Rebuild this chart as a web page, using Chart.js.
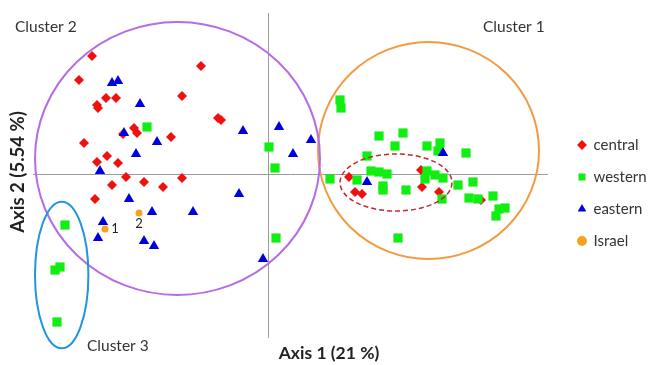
<!DOCTYPE html>
<html>
<head>
<meta charset="utf-8">
<script src="https://cdn.jsdelivr.net/npm/chart.js@4.4.0/dist/chart.umd.min.js"></script>
<style>
  html, body { margin: 0; padding: 0; background: #fff; }
  #wrap { width: 654px; height: 365px; position: relative; }
</style>
</head>
<body>
<div id="wrap"><canvas id="pcaChart"></canvas></div>
<script>
// PCA scores (axis 1 / axis 2)
const centralX = [-1.76, -1.89, -0.67, -1.62, -1.52, -1.71, -1.70, -0.86, -0.50, -0.47, -1.34, -1.31, -1.45, -0.97, -1.84, -1.61,
  -1.71, -1.50, -1.42, -1.56, -1.24, -1.05, -0.86, -1.73, 0.81, 0.87, 0.94, 1.53, 1.54, 1.71, 2.13];
const centralY = [1.18, 0.94, 1.08, 0.76, 0.76, 0.69, 0.66, 0.78, 0.56, 0.54, 0.46, 0.41, 0.40, 0.37, 0.31, 0.18,
  0.12, 0.11, -0.03, -0.11, -0.08, -0.13, -0.04, -0.25, -0.03, -0.18, -0.20, 0.04, -0.13, -0.18, -0.26];

const westernX = [-1.21, 0.01, 0.07, 0.08, -2.03, -2.13, -2.08, -2.11, 0.72, 0.73, 0.62, 1.11, 1.35, 1.27, 0.99, 1.03, 1.11, 1.19, 0.89, 1.15,
  1.15, 1.38, 1.59, 1.72, 1.70, 1.98, 1.59, 1.67, 1.75, 1.57, 1.90, 2.05, 1.74, 2.01, 2.10, 2.25, 2.31, 2.37, 2.28, 1.30];
const westernY = [0.47, 0.27, 0.06, -0.64, -0.51, -0.96, -0.93, -1.48, 0.74, 0.66, -0.05, 0.38, 0.41, 0.28, 0.18, 0.03, 0.02, 0.00, -0.06, -0.12,
  -0.16, -0.16, 0.28, 0.31, 0.23, 0.21, 0.03, -0.01, -0.04, -0.05, -0.11, -0.08, -0.25, -0.24, -0.25, -0.22, -0.35, -0.34, -0.42, -0.64];

const easternX = [-1.56, -1.50, -1.28, -1.44, -1.11, -1.32, -0.25, -1.68, -1.39, -1.16, -0.75, -0.29, -1.65, -1.70, -1.24, -1.14,
  -0.05, 0.11, 0.43, 0.25, 0.99, 1.75];
const easternY = [0.91, 0.93, 0.70, 0.41, 0.32, 0.20, 0.43, 0.03, -0.25, -0.38, -0.38, -0.20, -0.48, -0.64, -0.67, -0.72,
  -0.85, 0.47, 0.34, 0.20, -0.08, 0.21];

const israelX = [-1.63, -1.29];
const israelY = [-0.55, -0.39];
const israelTags = ['1', '2'];

// cluster outlines: centre and half-axes in score units
const clusterNames = ['Cluster 1', 'Cluster 2', 'Cluster 3'];
const clusterCx = [1.605, -0.905, -2.063];
const clusterCy = [0.235, 0.155, -1.01];
const clusterRx = [1.105, 1.425, 0.267];
const clusterRy = [1.085, 1.365, 0.733];
const clusterColors = ['#f29b40', '#b56ce4', '#2196e0'];
// dashed sub-group inside cluster 1
const subGroup = { cx: 1.28, cy: -0.085, rx: 0.56, ry: 0.285 };

function toPoints(xs, ys) {
  return xs.map((v, i) => ({ x: v, y: ys[i] }));
}

const FONT = 'Lato, "Open Sans", sans-serif';

const overlay = {
  id: 'overlay',
  beforeDatasetsDraw(chart) {
    const { ctx, scales: { x, y } } = chart;
    ctx.save();
    ctx.strokeStyle = '#9c9c9c';
    ctx.lineWidth = 1;
    const y0 = Math.round(y.getPixelForValue(0)) + 0.5;
    const x0 = Math.round(x.getPixelForValue(0)) + 0.5;
    ctx.beginPath();
    ctx.moveTo(x.getPixelForValue(-2.35), y0);
    ctx.lineTo(x.getPixelForValue(2.80), y0);
    ctx.moveTo(x0, y.getPixelForValue(1.61));
    ctx.lineTo(x0, y.getPixelForValue(-1.64));
    ctx.stroke();
    ctx.restore();
  },
  afterDatasetsDraw(chart) {
    const { ctx, scales: { x, y } } = chart;
    ctx.save();
    const ell = (cx, cy, rx, ry) => {
      const px = x.getPixelForValue(cx), py = y.getPixelForValue(cy);
      ctx.beginPath();
      ctx.ellipse(px, py, Math.abs(x.getPixelForValue(cx + rx) - px), Math.abs(y.getPixelForValue(cy + ry) - py), 0, 0, Math.PI * 2);
      ctx.stroke();
    };
    ctx.lineWidth = 2;
    clusterNames.forEach((n, i) => {
      ctx.strokeStyle = clusterColors[i];
      ell(clusterCx[i], clusterCy[i], clusterRx[i], clusterRy[i]);
    });
    ctx.strokeStyle = '#c42a2a';
    ctx.lineWidth = 1.5;
    ctx.setLineDash([5, 3]);
    ell(subGroup.cx, subGroup.cy, subGroup.rx, subGroup.ry);
    ctx.setLineDash([]);

    // cluster names
    ctx.fillStyle = '#333';
    ctx.font = '15.5px ' + FONT;
    ctx.textBaseline = 'middle';
    ctx.textAlign = 'left';
    ctx.fillText('Cluster 2', 15, 27);
    ctx.fillText('Cluster 1', 483, 27);
    ctx.fillText('Cluster 3', 87, 346);

    // Israel sample numbers
    ctx.font = '13px ' + FONT;
    ctx.fillStyle = '#222';
    ctx.textAlign = 'center';
    israelTags.forEach((t, i) => {
      const px = x.getPixelForValue(israelX[i]), py = y.getPixelForValue(israelY[i]);
      if (i === 0) ctx.fillText(t, px + 10, py);
      else ctx.fillText(t, px, py + 11);
    });

    // axis titles
    ctx.font = 'bold 17.5px ' + FONT;
    ctx.fillStyle = '#222';
    ctx.fillText('Axis 1 (21 %)', 329, 353);
    ctx.translate(18, 172);
    ctx.rotate(-Math.PI / 2);
    ctx.font = 'bold 18.5px ' + FONT;
    ctx.fillText('Axis 2 (5.54 %)', 0, 0);
    ctx.restore();
  }
};

const ctx = document.getElementById('pcaChart');
new Chart(ctx, {
  type: 'scatter',
  data: {
    datasets: [
      { label: 'Israel', data: toPoints(israelX, israelY), pointStyle: 'circle', pointRadius: 3.5,
        backgroundColor: '#f5a21c', borderColor: '#f5a21c', borderWidth: 0 },
      { label: 'eastern', data: toPoints(easternX, easternY), pointStyle: 'triangle', pointRadius: 6,
        backgroundColor: '#0000dd', borderColor: '#0000dd', borderWidth: 0 },
      { label: 'western', data: toPoints(westernX, westernY), pointStyle: 'rect', pointRadius: 6.5,
        backgroundColor: '#11ee11', borderColor: '#11ee11', borderWidth: 0 },
      { label: 'central', data: toPoints(centralX, centralY), pointStyle: 'rectRot', pointRadius: 5,
        backgroundColor: '#f01010', borderColor: '#f01010', borderWidth: 0 }
    ]
  },
  options: {
    responsive: true,
    maintainAspectRatio: false,
    animation: false,
    layout: { autoPadding: false, padding: { top: 21, right: 0, bottom: 0, left: 0 } },
    scales: {
      x: { display: false, min: -2.68, max: 2.93 },
      y: { display: false, min: -1.91, max: 1.53 }
    },
    plugins: {
      tooltip: { enabled: false },
      legend: {
        position: 'right',
        reverse: true,
        maxWidth: 93,
        labels: {
          usePointStyle: true,
          boxWidth: 8,
          boxHeight: 7,
          padding: 17,
          color: '#333',
          font: { family: FONT, size: 15 }
        }
      }
    }
  },
  plugins: [overlay]
});
</script>
</body>
</html>
